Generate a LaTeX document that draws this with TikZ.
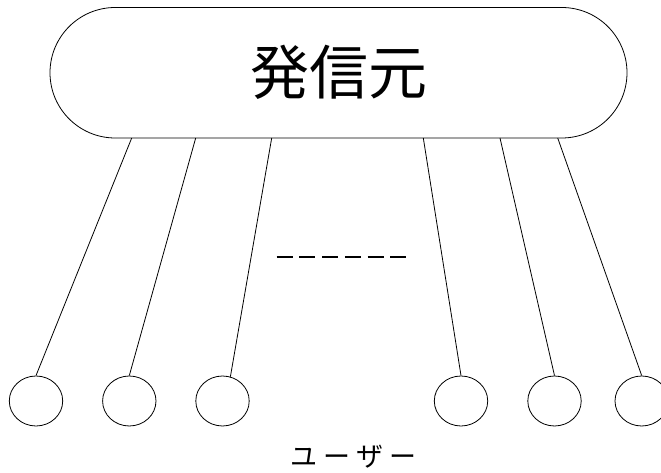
\documentclass[tikz,border=0pt]{standalone}
\usepackage{fontspec}
\newfontfamily\cjk{Noto Sans CJK JP}
\usetikzlibrary{shapes.misc,shapes.geometric,calc}
\newcommand{\chbox}[1]{\makebox[33.3pt]{#1}}
\begin{document}
\begin{tikzpicture}[x=1pt,y=1pt,
  ln/.style={draw=black,line width=0.8pt},
  user/.style={ellipse,draw=black,line width=0.8pt,minimum width=53.4pt,minimum height=50pt,inner sep=0pt},
  src/.style={rounded rectangle,draw=black,line width=0.8pt,minimum width=577pt,minimum height=130.5pt,inner sep=0pt,font=\cjk\fontsize{59}{59}\selectfont}]
\useasboundingbox (0,0) rectangle (661,473);
\node[src] (s) at (338.5,400.25) {\raisebox{3pt}{発信元}};
\node[user] (u1) at (36,72) {};
\node[user] (u2) at (129.3,72) {};
\node[user] (u3) at (222.5,72) {};
\node[user] (u4) at (461,72) {};
\node[user] (u5) at (554.5,72) {};
\node[user] (u6) at (641.7,72) {};
\coordinate (t1) at (131.7,335);
\coordinate (t2) at (195.7,335);
\coordinate (t3) at (271.7,335);
\coordinate (t4) at (423.3,335);
\coordinate (t5) at (500,335);
\coordinate (t6) at (557.7,335);
\draw[ln] (t1) -- (u1.north);
\draw[ln] (t2) -- (u2.north);
\draw[ln] (t3) -- (u3.72);
\draw[ln] (t4) -- (u4.north);
\draw[ln] (t5) -- (u5.north);
\draw[ln] (t6) -- (u6.north);
\coordinate (d1) at (276.7,215.7);
\coordinate (d2) at (406,215.7);
\draw[line width=2pt,dash pattern=on 16pt off 6.7pt] (d1) -- (d2);
\node[font=\cjk\fontsize{27}{27}\selectfont,inner sep=0pt] (lbl) at (353.5,16.8) {\chbox{ユ}\chbox{ー}\chbox{ザ}\chbox{ー}};
\end{tikzpicture}
\end{document}
